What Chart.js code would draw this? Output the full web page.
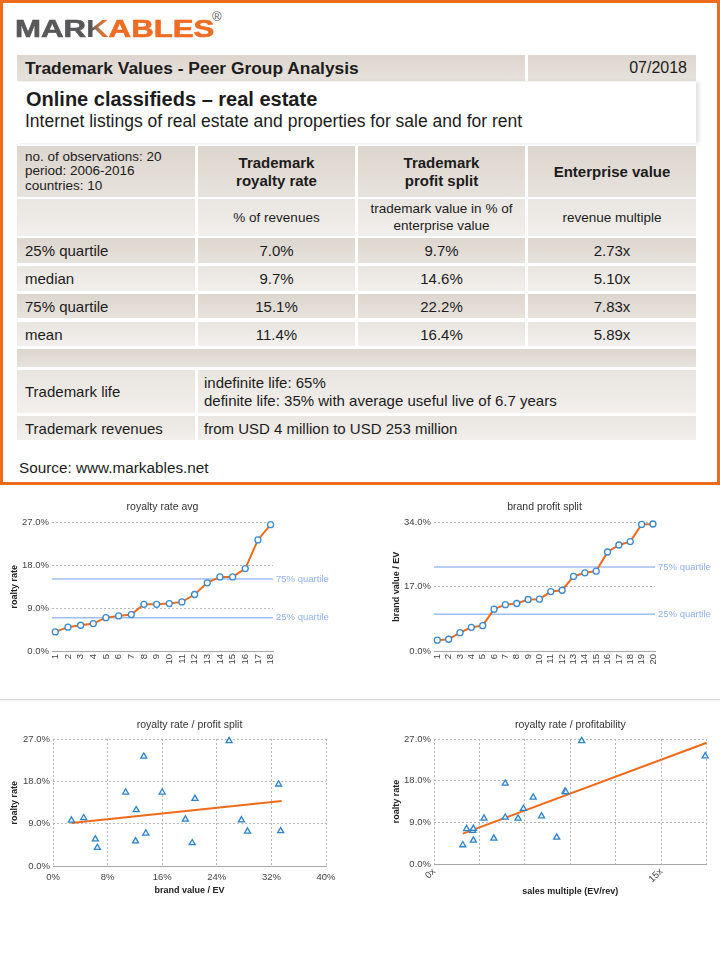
<!DOCTYPE html>
<html>
<head>
<meta charset="utf-8">
<title>Trademark Values - Online classifieds – real estate</title>
<script src="https://cdn.jsdelivr.net/npm/chart.js@4.4.1/dist/chart.umd.min.js"></script>
<style>
  html, body { margin: 0; padding: 0; background: #fff; }
  body { width: 720px; height: 968px; position: relative; overflow: hidden;
         font-family: "Liberation Sans", Arial, sans-serif; color: #1c1c1c; }
  .frame { position: absolute; left: 0; top: 0; width: 720px; height: 485px;
           box-sizing: border-box; border: 3px solid #ef6c1e; }
  .logo { position: absolute; left: 15px; top: 17px; font-size: 24px; font-weight: bold;
          line-height: 24px; color: #58585a; transform: scaleX(1.3); transform-origin: left top;
          white-space: nowrap; -webkit-text-stroke: 0.6px currentColor; }
  .logo .k { background: linear-gradient(90deg, #58585a 25%, #b8774c 55%, #ef6c23 90%);
             -webkit-background-clip: text; background-clip: text; color: transparent;
             -webkit-text-stroke: 0; }
  .logo .o { color: #ef6c23; }
  .reg { position: absolute; left: 212px; top: 9px; font-size: 13px; color: #58585a; }
  .cell { position: absolute; box-sizing: border-box; display: flex; align-items: center;
          font-size: 15px; white-space: nowrap; }
  .dark { background: linear-gradient(#ddd6ce, #e7e2dc); }
  .light { background: linear-gradient(#e9e5e0, #f2efec); }
  .ctr { justify-content: center; text-align: center; }
  .pad { padding-left: 8px; }
  .b { font-weight: bold; }
  .sm { font-size: 13.5px; }
  .txt { position: absolute; white-space: nowrap; }
  .sep { position: absolute; left: 0; top: 699px; width: 720px; height: 1px; background: #d6d6d6;
         box-shadow: 0 1px 2px rgba(0,0,0,0.08); }
  canvas { position: absolute; }
</style>
</head>
<body>
<div class="frame"></div>
<div class="logo">MAR<span class="k">K</span><span class="o">ABLES</span></div>
<div class="reg">®</div>

<!-- header row -->
<div class="cell dark pad b" style="left:17px;top:55px;width:508px;height:26px;font-size:17.4px">Trademark Values - Peer Group Analysis</div>
<div class="cell dark" style="left:528px;top:55px;width:168px;height:26px;font-size:16px;justify-content:flex-end;padding-right:9px">07/2018</div>

<!-- title block -->
<div style="position:absolute;left:17px;top:82px;width:679px;height:61px;background:#fff;box-shadow:3px 0 4px rgba(0,0,0,0.12)"></div>
<div class="txt b" style="left:26px;top:89px;font-size:20px;line-height:20px">Online classifieds – real estate</div>
<div class="txt" style="left:25px;top:113px;font-size:17.5px;line-height:17.5px">Internet listings of real estate and properties for sale and for rent</div>

<!-- column headers -->
<div class="cell dark pad sm" style="left:17px;top:146px;width:178px;height:51px;line-height:14.5px">no. of observations: 20<br>period: 2006-2016<br>countries: 10</div>
<div class="cell dark ctr b" style="left:198px;top:146px;width:157px;height:51px;line-height:18px">Trademark<br>royalty rate</div>
<div class="cell dark ctr b" style="left:358px;top:146px;width:167px;height:51px;line-height:18px">Trademark<br>profit split</div>
<div class="cell dark ctr b" style="left:528px;top:146px;width:168px;height:51px">Enterprise value</div>

<!-- units -->
<div class="cell light" style="left:17px;top:199px;width:178px;height:37px"></div>
<div class="cell light ctr sm" style="left:198px;top:199px;width:157px;height:37px">% of revenues</div>
<div class="cell light ctr sm" style="left:358px;top:199px;width:167px;height:37px;line-height:16.5px">trademark value in % of<br>enterprise value</div>
<div class="cell light ctr sm" style="left:528px;top:199px;width:168px;height:37px">revenue multiple</div>

<!-- statistics -->
<div class="cell dark pad" style="left:17px;top:238px;width:178px;height:25px">25% quartile</div>
<div class="cell dark ctr" style="left:198px;top:238px;width:157px;height:25px">7.0%</div>
<div class="cell dark ctr" style="left:358px;top:238px;width:167px;height:25px">9.7%</div>
<div class="cell dark ctr" style="left:528px;top:238px;width:168px;height:25px">2.73x</div>

<div class="cell light pad" style="left:17px;top:266px;width:178px;height:25px">median</div>
<div class="cell light ctr" style="left:198px;top:266px;width:157px;height:25px">9.7%</div>
<div class="cell light ctr" style="left:358px;top:266px;width:167px;height:25px">14.6%</div>
<div class="cell light ctr" style="left:528px;top:266px;width:168px;height:25px">5.10x</div>

<div class="cell dark pad" style="left:17px;top:294px;width:178px;height:24px">75% quartile</div>
<div class="cell dark ctr" style="left:198px;top:294px;width:157px;height:24px">15.1%</div>
<div class="cell dark ctr" style="left:358px;top:294px;width:167px;height:24px">22.2%</div>
<div class="cell dark ctr" style="left:528px;top:294px;width:168px;height:24px">7.83x</div>

<div class="cell light pad" style="left:17px;top:322px;width:178px;height:24px">mean</div>
<div class="cell light ctr" style="left:198px;top:322px;width:157px;height:24px">11.4%</div>
<div class="cell light ctr" style="left:358px;top:322px;width:167px;height:24px">16.4%</div>
<div class="cell light ctr" style="left:528px;top:322px;width:168px;height:24px">5.89x</div>

<div class="cell dark" style="left:17px;top:349px;width:679px;height:18px"></div>

<div class="cell light pad" style="left:17px;top:370px;width:178px;height:43px">Trademark life</div>
<div class="cell light pad" style="left:198px;top:370px;width:498px;height:43px;padding-left:6px;line-height:17.7px">indefinite life: 65%<br>definite life: 35% with average useful live of 6.7 years</div>

<div class="cell light pad" style="left:17px;top:416px;width:178px;height:24px">Trademark revenues</div>
<div class="cell light pad" style="left:198px;top:416px;width:498px;height:24px;padding-left:6px">from USD 4 million to USD 253 million</div>

<div class="txt" style="left:19px;top:459px;font-size:15.3px;line-height:17px">Source: www.markables.net</div>

<div class="sep"></div>

<canvas id="royaltyChart" width="360" height="200" style="left:0;top:495px"></canvas>
<canvas id="splitChart" width="360" height="200" style="left:360px;top:495px"></canvas>
<canvas id="rateSplitChart" width="360" height="200" style="left:0;top:710px"></canvas>
<canvas id="rateMultipleChart" width="360" height="200" style="left:360px;top:710px"></canvas>

<script>
Chart.defaults.font.family = "'Liberation Sans', Arial, sans-serif";
Chart.defaults.color = '#444';

const ORANGE = '#ee6a1c';
const BLUE = '#3a8ad0';
const GRID = '#b8b8b8';

// royalty rate avg - observations sorted ascending
const royaltyRank = [1, 2, 3, 4, 5, 6, 7, 8, 9, 10, 11, 12, 13, 14, 15, 16, 17, 18];
const royaltyRates = [4.0, 5.0, 5.4, 5.75, 7.0, 7.35, 7.65, 9.8, 9.8, 9.95, 10.3, 11.85, 14.3, 15.55, 15.55, 17.3, 23.3, 26.5];
const royaltyQuartiles = [7.0, 15.1];
const rateTicks = [0, 9, 18, 27];

// brand profit split - observations sorted ascending
const splitRank = [1, 2, 3, 4, 5, 6, 7, 8, 9, 10, 11, 12, 13, 14, 15, 16, 17, 18, 19, 20];
const splitValues = [2.85, 3.1, 4.85, 6.25, 6.7, 11.05, 12.25, 12.55, 13.6, 13.7, 15.7, 16.05, 19.7, 20.65, 21.1, 26.15, 28.0, 28.9, 33.45, 33.55];
const splitQuartiles = [9.7, 22.2];
const splitTicks = [0, 17, 34];

const quartileNames = ['25% quartile', '75% quartile'];

// royalty rate / profit split
const psX = [2.7, 4.5, 6.2, 6.5, 10.65, 12.2, 12.1, 13.3, 13.6, 16.0, 19.4, 20.4, 20.8, 25.8, 27.6, 28.5, 33.05, 33.35];
const psY = [9.75, 10.25, 5.75, 3.95, 15.7, 11.95, 5.35, 23.3, 7.0, 15.7, 9.95, 4.95, 14.35, 26.6, 9.8, 7.4, 17.4, 7.5];
const psTrendX = [2.7, 33.5];
const psTrendY = [9.2, 13.85];
const psTicks = [0, 8, 16, 24, 32, 40];

// royalty rate / profitability (sales multiple)
const smX = [1.9, 2.15, 2.55, 2.6, 2.6, 3.3, 3.95, 4.7, 4.7, 5.55, 5.9, 6.55, 7.1, 8.1, 8.65, 8.7, 9.75, 17.9];
const smY = [4.1, 7.6, 7.2, 7.65, 5.1, 9.85, 5.55, 17.4, 10.05, 9.85, 11.95, 14.4, 10.35, 5.75, 15.7, 15.55, 26.6, 23.3];
const smTrendX = [1.9, 18];
const smTrendY = [6.55, 26.2];
const smTicks = [0, 3, 6, 9, 12, 15, 18];
const smTickShown = [0, 15];

// draws the blue quartile lines with their labels right of the plot
const quartileLines = {
    id: 'quartileLines',
    beforeDatasetsDraw(chart, args, opts) {
        if (!opts.values) return;
        const { ctx, chartArea, scales } = chart;
        ctx.save();
        opts.values.forEach((v, i) => {
            const py = scales.y.getPixelForValue(v);
            ctx.strokeStyle = '#9fbff3';
            ctx.lineWidth = 1.5;
            ctx.beginPath();
            ctx.moveTo(chartArea.left, py);
            ctx.lineTo(chartArea.right, py);
            ctx.stroke();
            ctx.fillStyle = '#8eb1ee';
            ctx.font = "9.5px 'Liberation Sans', Arial, sans-serif";
            ctx.textBaseline = 'middle';
            ctx.fillText(opts.labels[i], chartArea.right + 3, py);
        });
        ctx.restore();
    }
};
Chart.register(quartileLines);

function chartTitle(text, top, bottom) {
    return { display: true, text: text, fullSize: false, color: '#333',
             font: { size: 10.5, weight: 'normal' }, padding: { top: top, bottom: bottom } };
}

function percentAxis(ticks, width, titleText, titlePad) {
    return {
        min: ticks[0], max: ticks[ticks.length - 1],
        afterBuildTicks: s => { s.ticks = ticks.map(v => ({ value: v })); },
        afterFit: s => { s.width = width; },
        ticks: { callback: v => v.toFixed(1) + '%', font: { size: 9.5 }, color: '#444', padding: 3 },
        grid: { color: GRID, drawTicks: false },
        border: { display: false, dash: [2, 2] },
        title: { display: true, text: titleText, color: '#222', font: { size: 9, weight: 'bold' },
                 padding: { top: titlePad, bottom: 0 } }
    };
}

function rankAxis(ranks, min, max) {
    return {
        type: 'linear', min: min, max: max,
        afterBuildTicks: s => { s.ticks = ranks.map(v => ({ value: v })); },
        afterFit: s => { s.height = 44; },
        ticks: { minRotation: 90, maxRotation: 90, autoSkip: false, font: { size: 9.5 }, color: '#444', padding: 3 },
        grid: { display: false, drawTicks: false },
        border: { display: true, color: '#a8a8a8' }
    };
}

function sortedLine(id, ranks, values, quartiles, titleText, yTitle, yTicks, yWidth, yTitlePad, padRight, xMin, xMax) {
    return new Chart(document.getElementById(id), {
        type: 'line',
        data: {
            datasets: [{
                data: ranks.map((r, i) => ({ x: r, y: values[i] })),
                borderColor: ORANGE,
                borderWidth: 2,
                pointRadius: 3,
                pointBorderWidth: 1.3,
                pointBorderColor: BLUE,
                pointBackgroundColor: '#fff',
                tension: 0,
                clip: false
            }]
        },
        options: {
            responsive: false,
            animation: false,
            layout: { padding: { left: 0, right: padRight, top: 0, bottom: 0 } },
            plugins: {
                legend: { display: false },
                tooltip: { enabled: false },
                title: chartTitle(titleText, 5.7, 9),
                quartileLines: { values: quartiles, labels: quartileNames }
            },
            scales: {
                x: rankAxis(ranks, xMin, xMax),
                y: percentAxis(yTicks, yWidth, yTitle, yTitlePad)
            }
        }
    });
}

sortedLine('royaltyChart', royaltyRank, royaltyRates, royaltyQuartiles, 'royalty rate avg', 'roalty rate',
           rateTicks, 52, 8.9, 87, 0.74, 18.19);
sortedLine('splitChart', splitRank, splitValues, splitQuartiles, 'brand profit split', 'brand value / EV',
           splitTicks, 74, 31.3, 65, 0.71, 20.18);

function scatterChart(id, xs, ys, trendX, trendY, titleText, xAxis, yWidth, yTitlePad, padRight) {
    return new Chart(document.getElementById(id), {
        type: 'scatter',
        data: {
            datasets: [{
                data: xs.map((x, i) => ({ x: x, y: ys[i] })),
                pointStyle: 'triangle',
                pointRadius: 3.5,
                borderWidth: 1.3,
                borderColor: '#2f84c8',
                backgroundColor: '#eaf3fb',
                clip: false
            }, {
                data: trendX.map((x, i) => ({ x: x, y: trendY[i] })),
                showLine: true,
                pointRadius: 0,
                borderColor: ORANGE,
                borderWidth: 2,
                clip: false
            }]
        },
        options: {
            responsive: false,
            animation: false,
            layout: { padding: { left: 0, right: padRight, top: 0, bottom: 0 } },
            plugins: {
                legend: { display: false },
                tooltip: { enabled: false },
                title: chartTitle(titleText, 8.7, 7.7)
            },
            scales: {
                x: xAxis,
                y: percentAxis(rateTicks, yWidth, 'roalty rate', yTitlePad)
            }
        }
    });
}

scatterChart('rateSplitChart', psX, psY, psTrendX, psTrendY, 'royalty rate / profit split', {
    type: 'linear', min: psTicks[0], max: psTicks[psTicks.length - 1],
    afterBuildTicks: s => { s.ticks = psTicks.map(v => ({ value: v })); },
    afterFit: s => { s.height = 43.7; },
    ticks: { callback: v => v + '%', font: { size: 9.5 }, color: '#444', padding: 5, maxRotation: 0 },
    grid: { color: GRID, drawTicks: false },
    border: { display: true, color: '#a8a8a8', dash: [2, 2] },
    title: { display: true, text: 'brand value / EV', color: '#222', font: { size: 9, weight: 'bold' },
             padding: { top: 0, bottom: 13.6 } }
}, 53, 8.9, 34);

scatterChart('rateMultipleChart', smX, smY, smTrendX, smTrendY, 'royalty rate / profitability', {
    type: 'linear', min: smTicks[0], max: smTicks[smTicks.length - 1],
    afterBuildTicks: s => { s.ticks = smTicks.map(v => ({ value: v })); },
    afterFit: s => { s.height = 46; },
    ticks: { callback: v => smTickShown.includes(v) ? v + 'x' : '', font: { size: 9.5 }, color: '#444',
             padding: 2, minRotation: 45, maxRotation: 45, autoSkip: false },
    grid: { color: GRID, drawTicks: false },
    border: { display: true, color: '#a8a8a8', dash: [2, 2] },
    title: { display: true, text: 'sales multiple (EV/rev)', color: '#222', font: { size: 9, weight: 'bold' },
             padding: { top: 0, bottom: 12.9 } }
}, 74, 31.6, 13.3);
</script>
</body>
</html>
